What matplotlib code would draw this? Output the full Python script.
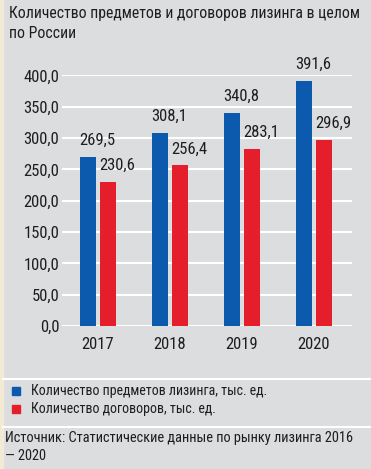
import matplotlib.pyplot as plt
from matplotlib.lines import Line2D
from matplotlib.patches import Rectangle
import numpy as np

# Data
years = ['2017', '2018', '2019', '2020']
items = [269.5, 308.1, 340.8, 391.6]      # leased items, thousand units
contracts = [230.6, 256.4, 283.1, 296.9]  # contracts, thousand units
yticks = [0, 50, 100, 150, 200, 250, 300, 350, 400]

title = 'Количество предметов и договоров лизинга в целом\nпо России'
legend_labels = ['Количество предметов лизинга, тыс. ед.', 'Количество договоров, тыс. ед.']
source = 'Источник: Статистические данные по рынку лизинга 2016\n— 2020'

blue = '#0b5aad'
red = '#e41f2b'
bg = '#dcdddf'
ink = '#1e1e1e'
plt.rcParams['font.family'] = ['Roboto Condensed', 'DejaVu Sans']

W, H = 371, 469
fig = plt.figure(figsize=(W / 100, H / 100), dpi=100, facecolor=bg)

# cream strip on the left edge
fig.patches.append(Rectangle((0, 0), 3 / W, 1, transform=fig.transFigure, color='#f3ead6', zorder=0))
# white separators
for yp in (379, 427):
    fig.lines.append(Line2D([3 / W, 1], [1 - yp / H] * 2, transform=fig.transFigure, color='white', lw=1.5))

fig.text(9 / W, 1 - 6 / H, title, ha='left', va='top', fontsize=11.3, color=ink, linespacing=1.4)

ax = fig.add_axes([62 / W, 1 - 326 / H, 290 / W, 250.5 / H])
ax.set_facecolor(bg)
x = np.arange(len(years))
w = 0.22
off = 0.139
b1 = ax.bar(x - off, items, w, color=blue, zorder=3)
b2 = ax.bar(x + off, contracts, w, color=red, zorder=3)
for bars, vals in ((b1, items), (b2, contracts)):
    for b, v in zip(bars, vals):
        ax.annotate(f'{v:.1f}'.replace('.', ','), (b.get_x(), v), xytext=(-1, 9),
                    textcoords='offset pixels', ha='left', va='bottom', fontsize=12, color=ink)

ax.set_xlim(-0.5, 3.53)
ax.set_ylim(0, 400)
ax.set_yticks(yticks)
ax.set_yticklabels([f'{t:.1f}'.replace('.', ',') for t in yticks])
ax.set_xticks(x)
ax.set_xticklabels(years)
ax.yaxis.grid(True, color='white', lw=1.5, zorder=0)
ax.tick_params(length=0, labelsize=12, colors=ink)
ax.tick_params(axis='y', pad=2)
ax.tick_params(axis='x', pad=8)
for s in ax.spines.values():
    s.set_visible(False)

# legend drawn by hand
for i, (lab, c) in enumerate(zip(legend_labels, [blue, red])):
    yc = 391 + i * 18
    fig.patches.append(Rectangle((12 / W, 1 - (yc + 4) / H), 8 / W, 8 / H, transform=fig.transFigure, color=c))
    fig.text(31 / W, 1 - yc / H, lab, ha='left', va='center', fontsize=10, color=ink)

fig.text(5 / W, 1 - 431 / H, source, ha='left', va='top', fontsize=10.4, color=ink, linespacing=1.4)

fig.savefig('out.png', dpi=100, facecolor=bg)
